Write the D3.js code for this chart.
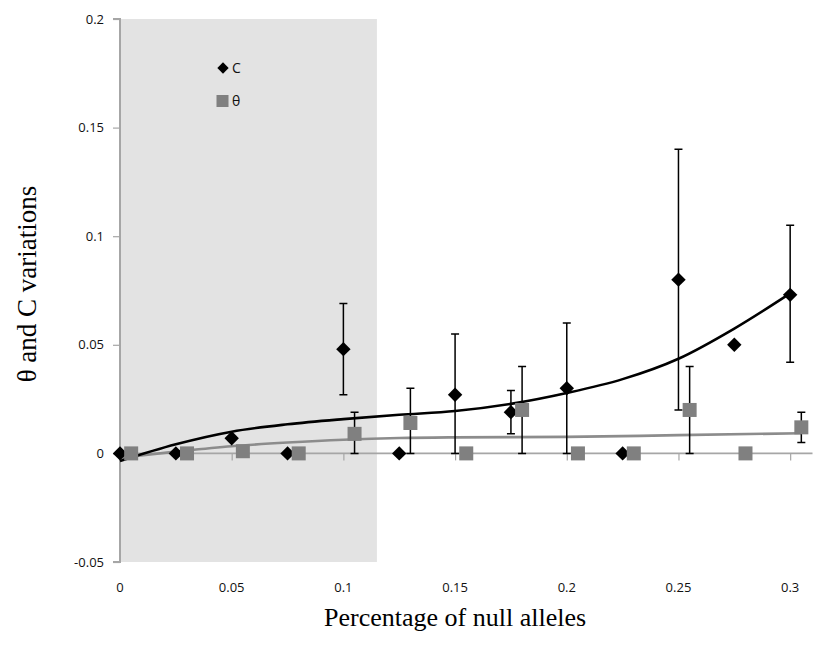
<!DOCTYPE html>
<html>
<head>
<meta charset="utf-8">
<script src="https://cdn.jsdelivr.net/npm/d3@7"></script>
<style>
  html, body { margin: 0; padding: 0; background: #fff; }
  svg { display: block; }
</style>
</head>
<body>
<script>
// ---------- data ----------
const xC = [0, 0.025, 0.05, 0.075, 0.1, 0.125, 0.15, 0.175, 0.2, 0.225, 0.25, 0.275, 0.3];
const cValues = [0, 0, 0.007, 0, 0.048, 0, 0.027, 0.019, 0.03, 0, 0.08, 0.05, 0.073];
const cErrPlus = [0, 0, 0, 0, 0.021, 0, 0.028, 0.01, 0.03, 0, 0.06, 0, 0.032];
const cErrMinus = [0, 0, 0, 0, 0.021, 0, 0.027, 0.01, 0.03, 0, 0.06, 0, 0.031];

const xTheta = [0.005, 0.03, 0.055, 0.08, 0.105, 0.13, 0.155, 0.18, 0.205, 0.23, 0.255, 0.28, 0.305];
const thetaValues = [0, 0, 0.001, 0, 0.009, 0.014, 0, 0.02, 0, 0, 0.02, 0, 0.012];
const thetaErrPlus = [0, 0, 0, 0, 0.01, 0.016, 0, 0.02, 0, 0, 0.02, 0, 0.007];
const thetaErrMinus = [0, 0, 0, 0, 0.009, 0.014, 0, 0.02, 0, 0, 0.02, 0, 0.007];

// trend lines
const trendCx = [0, 0.025, 0.05, 0.075, 0.1, 0.125, 0.15, 0.175, 0.2, 0.225, 0.25, 0.275, 0.3];
const trendCy = [-0.0035, 0.0042, 0.0100, 0.0134, 0.0158, 0.0178, 0.0195, 0.0228, 0.0278, 0.0342, 0.0436, 0.0575, 0.0737];
const trendTx = [0, 0.025, 0.05, 0.075, 0.1, 0.125, 0.15, 0.2, 0.25, 0.305];
const trendTy = [-0.002, 0.0008, 0.0033, 0.005, 0.0063, 0.0071, 0.0074, 0.0076, 0.0084, 0.0093];

const xTicks = [0, 0.05, 0.1, 0.15, 0.2, 0.25, 0.3];
const yTicks = [-0.05, 0, 0.05, 0.1, 0.15, 0.2];
const shadeRange = [0, 0.115];
const xTitle = "Percentage of null alleles";
const yTitle = "θ and C variations";
const legendLabels = ["C", "θ"];

// ---------- drawing ----------
const W = 820, H = 650;
const svg = d3.select("body").append("svg").attr("width", W).attr("height", H);

const x = d3.scaleLinear().domain([0, 0.31]).range([120, 812.5]);
const y = d3.scaleLinear().domain([-0.05, 0.2]).range([562, 19]);

const tickFont = "'Open Sans', 'Noto Sans', sans-serif";
const titleFont = "'Liberation Serif', 'Times New Roman', serif";
const axisGray = "#a6a6a6";

// shaded region
svg.append("rect")
  .attr("x", x(shadeRange[0]))
  .attr("y", y(0.2))
  .attr("width", x(shadeRange[1]) - x(shadeRange[0]))
  .attr("height", y(-0.05) - y(0.2))
  .attr("fill", "#e3e3e3");

// zero line (x axis) with ticks
const xAxis = d3.axisBottom(x).tickValues(xTicks).tickSize(7).tickFormat("");
const gx = svg.append("g").attr("transform", `translate(0,${y(0)})`).call(xAxis);
gx.select(".domain").attr("stroke", axisGray).attr("stroke-width", 1.6)
  .attr("d", `M${x(0)},0H${x(0.31)}`);
gx.selectAll(".tick line").attr("stroke", axisGray).attr("stroke-width", 1.2);

// x labels at bottom
svg.append("g").selectAll("text").data(xTicks).join("text")
  .attr("x", d => x(d)).attr("y", 592)
  .attr("text-anchor", "middle")
  .attr("font-family", tickFont).attr("font-size", 13).attr("fill", "#111")
  .text(d => d3.format("")(d));

// y axis
const yAxis = d3.axisLeft(y).tickValues(yTicks).tickSize(7).tickPadding(9)
  .tickFormat(d => d === 0 ? "0" : String(+d.toFixed(2)));
const gy = svg.append("g").attr("transform", `translate(${x(0)},0)`).call(yAxis);
gy.select(".domain").attr("stroke", axisGray).attr("stroke-width", 2)
  .attr("d", `M-7,${y(0.2)}H0V${y(-0.05)}H-7`);
gy.selectAll(".tick line").attr("stroke", axisGray).attr("stroke-width", 1.2);
gy.selectAll(".tick text").attr("font-family", tickFont).attr("font-size", 13).attr("fill", "#111");

// trend lines
const lineGen = d3.line().x(d => x(d[0])).y(d => y(d[1])).curve(d3.curveMonotoneX);
svg.append("path").datum(d3.zip(trendTx, trendTy))
  .attr("d", lineGen).attr("fill", "none").attr("stroke", "#8c8c8c").attr("stroke-width", 2.6);
svg.append("path").datum(d3.zip(trendCx, trendCy))
  .attr("d", lineGen).attr("fill", "none").attr("stroke", "#000").attr("stroke-width", 2.6);

// error bars
function errorBars(xs, vals, plus, minus) {
  const data = xs.map((d, i) => ({ x: d, v: vals[i], p: plus[i], m: minus[i] }))
    .filter(d => d.p > 0 || d.m > 0);
  const g = svg.append("g").attr("stroke", "#000").attr("stroke-width", 1.5).attr("fill", "none");
  g.selectAll("path").data(data).join("path")
    .attr("d", d => {
      const cx = x(d.x), top = y(d.v + d.p), bot = y(d.v - d.m);
      return `M${cx},${top}V${bot}M${cx - 4},${top}H${cx + 4}M${cx - 4},${bot}H${cx + 4}`;
    });
}
errorBars(xC, cValues, cErrPlus, cErrMinus);
errorBars(xTheta, thetaValues, thetaErrPlus, thetaErrMinus);

// markers
const diamond = d3.symbol().type(d3.symbolSquare).size(104);
svg.append("g").selectAll("path").data(d3.zip(xC, cValues)).join("path")
  .attr("transform", d => `translate(${x(d[0])},${y(d[1])}) rotate(45)`)
  .attr("d", diamond).attr("fill", "#000");

const sq = 14;
svg.append("g").selectAll("rect").data(d3.zip(xTheta, thetaValues)).join("rect")
  .attr("x", d => x(d[0]) - sq / 2).attr("y", d => y(d[1]) - sq / 2)
  .attr("width", sq).attr("height", sq).attr("fill", "#808080");

// legend
const lg = svg.append("g");
lg.append("path").attr("transform", "translate(223,68) rotate(45)")
  .attr("d", d3.symbol().type(d3.symbolSquare).size(64)).attr("fill", "#000");
lg.append("rect").attr("x", 216.5).attr("y", 95).attr("width", 12).attr("height", 12).attr("fill", "#808080");
lg.selectAll("text").data(legendLabels).join("text")
  .attr("x", 232).attr("y", (d, i) => 73 + i * 33)
  .attr("font-family", tickFont).attr("font-size", 14).attr("fill", "#111")
  .text(d => d);

// axis titles
svg.append("text").attr("x", x(0.15)).attr("y", 626)
  .attr("text-anchor", "middle").attr("font-family", titleFont).attr("font-size", 26).attr("fill", "#000")
  .text(xTitle);
svg.append("text").attr("transform", "translate(36,284) rotate(-90)")
  .attr("text-anchor", "middle").attr("font-family", titleFont).attr("font-size", 27).attr("fill", "#000")
  .text(yTitle);
</script>
</body>
</html>
